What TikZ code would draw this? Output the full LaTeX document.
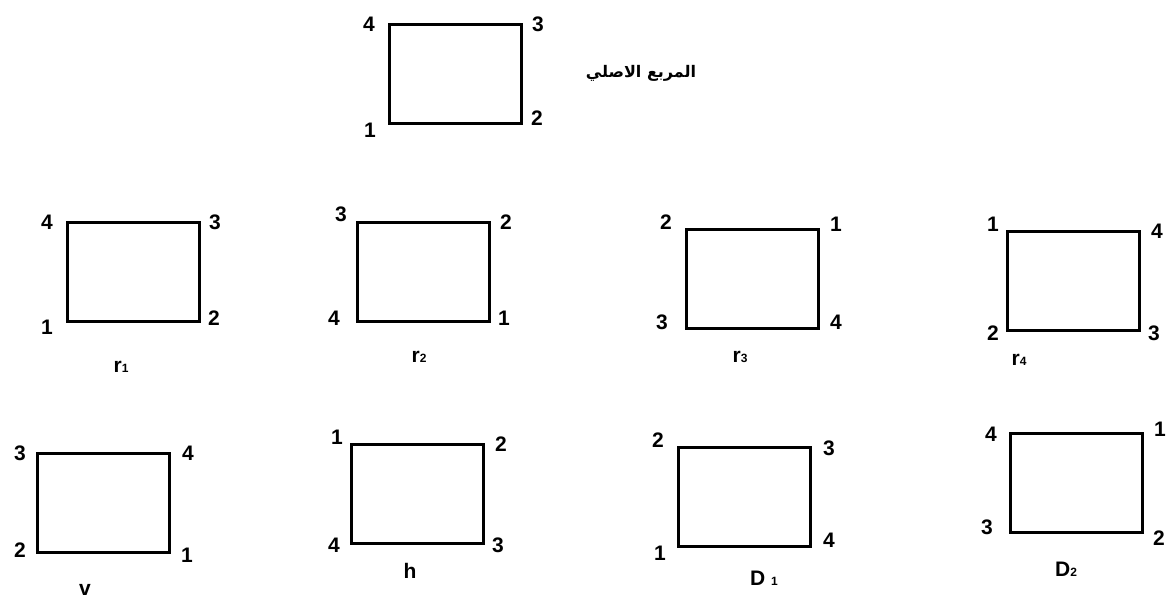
\documentclass[tikz,border=0pt]{standalone}
\usepackage{fontspec}
\setmainfont{Liberation Sans}
\newfontfamily\arabicfont[Script=Arabic]{DejaVu Sans}
\TeXXeTstate=1
\newcommand{\subsc}[1]{{\fontsize{12}{12}\selectfont #1}}
\begin{document}
\begin{tikzpicture}[x=1pt,y=-1pt,
  sq/.style={draw=black,line width=3pt,minimum width=132pt,minimum height=99pt,inner sep=0pt},
  lbl/.style={font=\fontsize{21}{21}\selectfont\bfseries,inner sep=0pt,anchor=center},
  nm/.style={font=\fontsize{21}{21}\selectfont\bfseries,inner sep=0pt,anchor=center}]
\useasboundingbox (0,0) rectangle (1167,598);
% original
\node[sq] (o) at (455,73.5) {};
\node[lbl] (o4) at (369,24) {4};
\node[lbl] (o3) at (538,24) {3};
\node[lbl] (o1) at (370,130) {1};
\node[lbl] (o2) at (537,118) {2};
\node[font=\arabicfont\bfseries\fontsize{16}{16}\selectfont,inner sep=0pt] (ot) at (641,73) {\beginR المربع الاصلي\endR};
% r1
\node[sq] (r1) at (133,272) {};
\node[lbl] (r14) at (47,222) {4};
\node[lbl] (r13) at (215,222) {3};
\node[lbl] (r11) at (47,327) {1};
\node[lbl] (r12) at (214,318) {2};
\node[nm] (r1n) at (121,367) {r\subsc{1}};
% r2
\node[sq] (r2) at (423,272) {};
\node[lbl] (r23) at (341,214) {3};
\node[lbl] (r22) at (506,222) {2};
\node[lbl] (r24) at (334,318) {4};
\node[lbl] (r21) at (504,318) {1};
\node[nm] (r2n) at (419,357) {r\subsc{2}};
% r3
\node[sq] (r3) at (752,278.5) {};
\node[lbl] (r32) at (666,222) {2};
\node[lbl] (r31) at (836,224) {1};
\node[lbl] (r33) at (662,322) {3};
\node[lbl] (r34) at (836,322) {4};
\node[nm] (r3n) at (740,357) {r\subsc{3}};
% r4
\node[sq] (r4) at (1073,280.5) {};
\node[lbl] (r41) at (993,224) {1};
\node[lbl] (r44) at (1157,231) {4};
\node[lbl] (r42) at (993,333) {2};
\node[lbl] (r43) at (1154,333) {3};
\node[nm] (r4n) at (1019,360) {r\subsc{4}};
% v
\node[sq] (v) at (103,502.5) {};
\node[lbl] (v3) at (20,453) {3};
\node[lbl] (v4) at (188,453) {4};
\node[lbl] (v2) at (20,550) {2};
\node[lbl] (v1) at (187,555) {1};
\node[nm] (vn) at (85,590) {v};
% h
\node[sq] (h) at (417,494) {};
\node[lbl] (h1) at (337,437) {1};
\node[lbl] (h2) at (501,444) {2};
\node[lbl] (h4) at (334,545) {4};
\node[lbl] (h3) at (498,545) {3};
\node[nm] (hn) at (410,571) {h};
% D1
\node[sq] (d1) at (744,496.5) {};
\node[lbl] (d12) at (658,440) {2};
\node[lbl] (d13) at (829,448) {3};
\node[lbl] (d11) at (660,553) {1};
\node[lbl] (d14) at (829,540) {4};
\node[nm] (d1n) at (764,578) {D~\subsc{1}};
% D2
\node[sq] (d2) at (1076.5,483) {};
\node[lbl] (d24) at (991,434) {4};
\node[lbl] (d21) at (1160,429) {1};
\node[lbl] (d23) at (987,527) {3};
\node[lbl] (d22) at (1159,538) {2};
\node[nm] (d2n) at (1066,569) {D\subsc{2}};
\end{tikzpicture}
\end{document}
